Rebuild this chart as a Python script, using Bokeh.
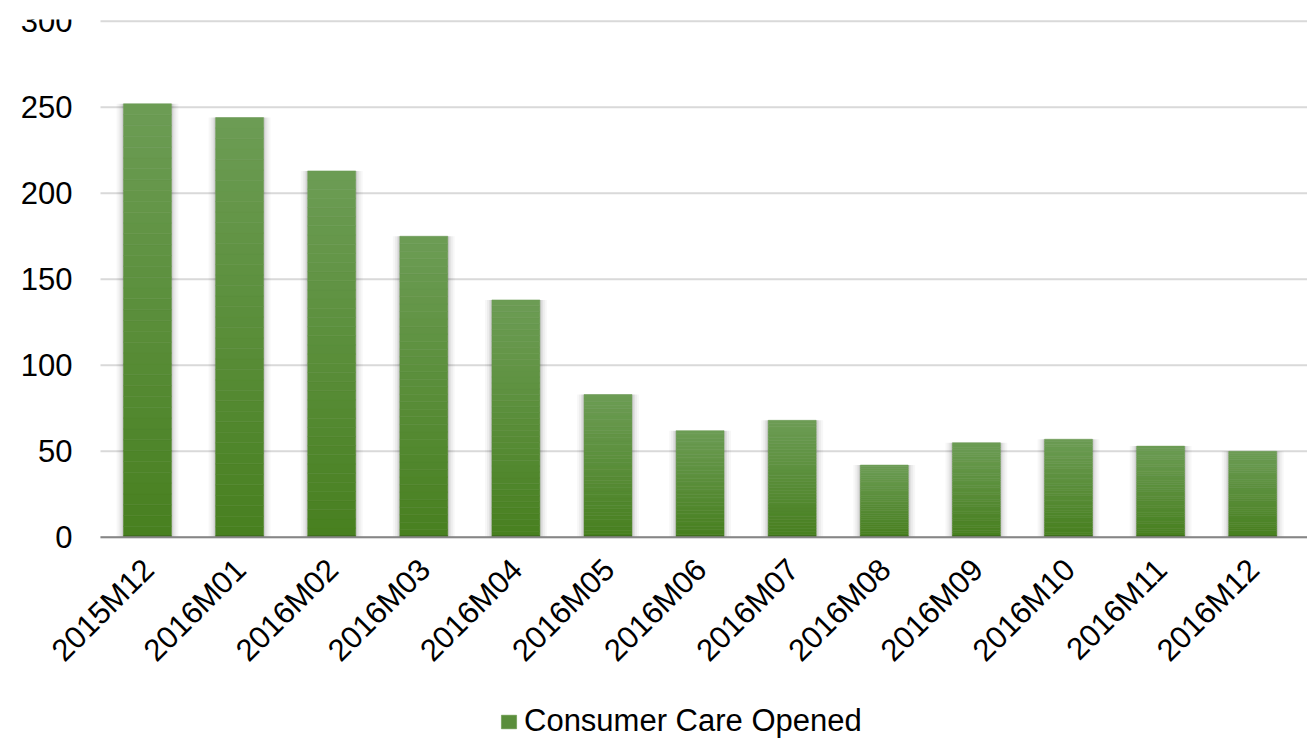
import math
from bokeh.plotting import figure
from bokeh.core.properties import value
from bokeh.models import (ColumnDataSource, Range1d, Legend, LegendItem)
from bokeh.embed import file_html
from bokeh.resources import INLINE

# Monthly counts of opened consumer-care cases
months = ["2015M12", "2016M01", "2016M02", "2016M03", "2016M04", "2016M05",
          "2016M06", "2016M07", "2016M08", "2016M09", "2016M10", "2016M11", "2016M12"]
opened = [252, 244, 213, 175, 138, 83, 62, 68, 42, 55, 57, 53, 50]
y_ticks = [0, 50, 100, 150, 200, 250, 300]
series_name = "Consumer Care Opened"

FONT = "Liberation Sans"
BAR_W = 0.52
N_STRIPS = 40
TOP_RGB = (108, 156, 84)
BOT_RGB = (72, 128, 32)
PLOT_X0, PLOT_X1 = -0.51, 12.595      # extent of the value grid


def mix(t):
    r = [round(BOT_RGB[i] + (TOP_RGB[i] - BOT_RGB[i]) * t) for i in range(3)]
    return "#%02x%02x%02x" % tuple(r)


# each bar is split into thin horizontal strips so it fades from dark at the
# base to lighter green at its top
xs, bottoms, tops, colors = [], [], [], []
for i, v in enumerate(opened):
    for k in range(N_STRIPS):
        xs.append(i)
        bottoms.append(v * k / N_STRIPS)
        tops.append(v * (k + 1) / N_STRIPS)
        colors.append(mix(k / (N_STRIPS - 1)))
strips = ColumnDataSource(dict(x=xs, bottom=bottoms, top=tops, color=colors))
bars = ColumnDataSource(dict(x=list(range(len(months))), top=opened,
                             base=[0] * len(months), month=months))
grid = ColumnDataSource(dict(y=y_ticks, label=[str(t) for t in y_ticks],
                             x0=[PLOT_X0] * len(y_ticks), x1=[PLOT_X1] * len(y_ticks)))

# the frame covers the whole page so every label and the legend can be drawn
# around the value grid
p = figure(frame_width=1307, frame_height=723, output_backend="svg",
           toolbar_location=None, x_axis_location=None, y_axis_location=None,
           x_range=Range1d(PLOT_X0 - 100 / 92.1, PLOT_X1), y_range=Range1d(-119.3, 301),
           min_border_left=0, min_border_top=19, min_border_right=0,
           min_border_bottom=0)
p.outline_line_color = None
p.background_fill_color = "white"
p.border_fill_color = "white"
p.xgrid.visible = False
p.ygrid.visible = False

# horizontal value grid
p.segment(x0="x0", x1="x1", y0="y", y1="y", source=grid,
          line_color="#d9d9d9", line_width=2)

# value labels left of the grid
p.text(x="x0", y="y", text="label", source=grid, x_offset=-28,
       text_align="right", text_baseline="middle",
       text_font=value(FONT), text_font_size="31px", text_color="#000000")

# soft drop shadow behind the bars
for extra, alpha in [(14, 0.03), (10, 0.04), (6, 0.06), (3, 0.08)]:
    p.vbar(x="x", top="top", bottom=0, width=BAR_W + extra / 92.1, source=bars,
           fill_color="#000000", fill_alpha=alpha, line_color=None)

r = p.vbar(x="x", bottom="bottom", top="top", width=BAR_W, source=strips,
           fill_color="color", line_color="color", line_width=0.5)

# dark rim at the base of each bar
p.vbar(x="x", top=1.2, bottom=0, width=BAR_W, source=bars,
       fill_color="#3d6a1c", line_color=None)

# category axis line along zero
p.segment(x0=PLOT_X0, x1=PLOT_X1, y0=0, y1=0, line_color="#868686", line_width=2)

# rotated month labels under each bar
p.text(x="x", y="base", text="month", source=bars, angle=math.pi / 4,
       text_align="right", text_baseline="middle", x_offset=1, y_offset=27,
       text_font=value(FONT), text_font_size="31px", text_color="#000000")

legend = Legend(items=[LegendItem(label=series_name, renderers=[r], index=N_STRIPS // 2)],
                orientation="horizontal", location=(499, 3),
                glyph_width=19, glyph_height=17, label_standoff=6,
                label_text_font=FONT, label_text_font_size="31px",
                label_text_color="#000000", border_line_color=None,
                background_fill_alpha=0, padding=0, margin=0, spacing=0)
p.add_layout(legend, "center")

open("out.html", "w").write(file_html(p, INLINE))
